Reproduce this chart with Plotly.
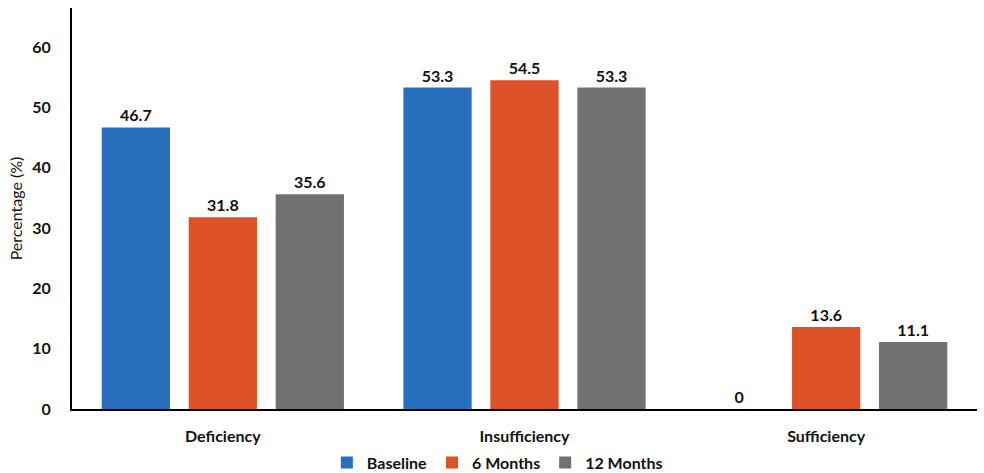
import plotly.graph_objects as go

categories = ["Deficiency", "Insufficiency", "Sufficiency"]
series_names = ["Baseline", "6 Months", "12 Months"]
baseline = [46.7, 53.3, 0]
six_months = [31.8, 54.5, 13.6]
twelve_months = [35.6, 53.3, 11.1]
y_ticks = [0, 10, 20, 30, 40, 50, 60]

colors = ["#2870BD", "#DE5229", "#717171"]
values = [baseline, six_months, twelve_months]

FONT = "Lato"
fig = go.Figure()
for name, vals, col in zip(series_names, values, colors):
    fig.add_trace(go.Bar(
        x=categories, y=vals, name=name,
        marker=dict(color=col, line=dict(width=0)),
        text=[("%g" % v) for v in vals],
        textposition="outside", cliponaxis=False,
        textfont=dict(family=FONT, size=16, color="#111111", weight="bold"),
    ))

fig.update_layout(
    width=984, height=473,
    margin=dict(l=72, r=7, t=8, b=64),
    paper_bgcolor="white", plot_bgcolor="white",
    barmode="group", bargap=0.135, bargroupgap=0.215,
    font=dict(family=FONT, color="#111111"),
    legend=dict(orientation="h", x=0.47, xanchor="center",
                yref="container", y=0.022, yanchor="middle",
                font=dict(family=FONT, size=16, color="#111111", weight="bold"),
                itemwidth=30, traceorder="normal"),
    xaxis=dict(showline=True, linecolor="black", linewidth=2, ticks="",
               automargin=False, ticklabelstandoff=12,
               tickfont=dict(family=FONT, size=16, color="#111111", weight="bold")),
    yaxis=dict(range=[0, 66.5], tickvals=y_ticks, showgrid=False, zeroline=False,
               showline=True, linecolor="black", linewidth=2, ticks="",
               automargin=False, ticklabelstandoff=16,
               tickfont=dict(family=FONT, size=16, color="#111111", weight="bold"),
               title=dict(text="Percentage (%)", standoff=6,
                          font=dict(family=FONT, size=16, color="#111111"))),
)
fig.write_html("out.html", config={"displayModeBar": False},
               post_script="document.body.style.margin='0';document.body.style.overflow='hidden';")
